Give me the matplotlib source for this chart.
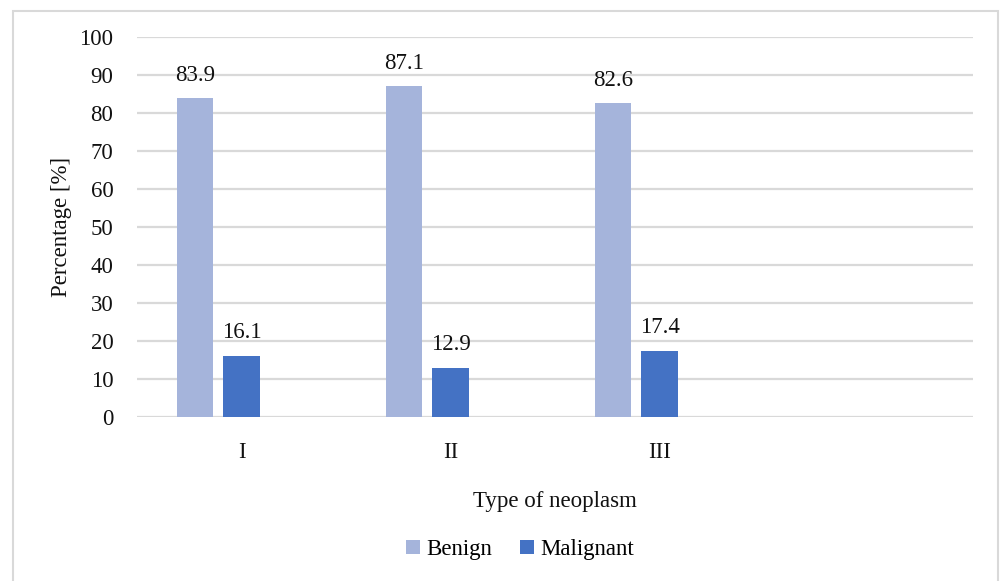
import matplotlib.pyplot as plt
from matplotlib.patches import Rectangle
import numpy as np

# Dane
categories = ["I", "II", "III", ""]
benign = [83.9, 87.1, 82.6]
malignant = [16.1, 12.9, 17.4]
y_ticks = list(range(0, 101, 10))

plt.rcParams["font.family"] = ["Liberation Serif", "DejaVu Serif"]
fs = 16.5

fig = plt.figure(figsize=(10, 5.81), dpi=100)
ax = fig.add_axes([0.137, 0.2823, 0.836, 0.654])

# Ramka wokół całego wykresu
fig.patches.append(Rectangle((0.013, -0.01), 0.985, 0.991, transform=fig.transFigure,
                             fill=False, edgecolor="#d9d9d9", linewidth=1.5))

x = np.arange(len(categories))
width = 0.173
step = 0.223

b1 = ax.bar(x[:3] - step, benign, width, color="#a5b4db", label="Benign", zorder=3)
b2 = ax.bar(x[:3], malignant, width, color="#4472c4", label="Malignant", zorder=3)

for bars, vals in ((b1, benign), (b2, malignant)):
    for bar, v in zip(bars, vals):
        ax.annotate(f"{v}", (bar.get_x() + bar.get_width() / 2, v),
                    xytext=(0, 9), textcoords="offset points",
                    ha="center", va="bottom", fontsize=fs, color="#111111")

ax.set_xlim(-0.5, 3.5)
ax.set_ylim(0, 100)
ax.set_yticks(y_ticks)
ax.set_xticks(x)
ax.set_xticklabels(categories)
ax.tick_params(length=0, labelsize=fs, colors="#111111")
ax.tick_params(axis="x", pad=18)
ax.tick_params(axis="y", pad=17)
ax.grid(axis="y", color="#d9d9d9", linewidth=1.6, zorder=0)
for s in ax.spines.values():
    s.set_visible(False)

ax.set_xlabel("Type of neoplasm", fontsize=fs, labelpad=20, color="#111111")
ax.set_ylabel("Percentage [%]", fontsize=fs, labelpad=5, color="#111111")

fig.legend(loc="center", bbox_to_anchor=(0.52, 0.054), ncol=2, frameon=False,
           fontsize=fs, handlelength=0.6, handleheight=0.6, handletextpad=0.3,
           columnspacing=1.2)

fig.savefig("out.png", dpi=100)
